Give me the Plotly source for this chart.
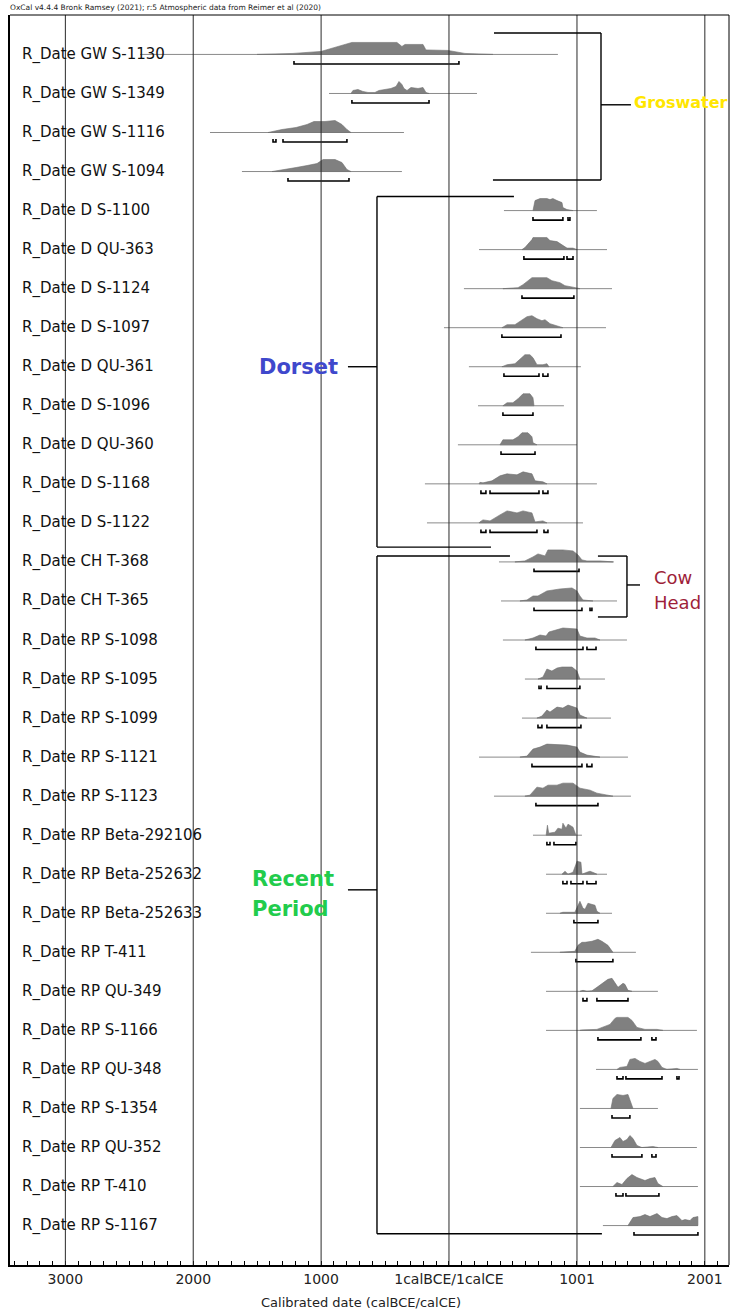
import plotly.graph_objects as go

# ---------------- data ----------------
labels = ["R_Date GW S-1130", "R_Date GW S-1349", "R_Date GW S-1116", "R_Date GW S-1094",
          "R_Date D S-1100", "R_Date D QU-363", "R_Date D S-1124", "R_Date D S-1097",
          "R_Date D QU-361", "R_Date D S-1096", "R_Date D QU-360", "R_Date D S-1168",
          "R_Date D S-1122", "R_Date CH T-368", "R_Date CH T-365",
          "R_Date RP S-1098", "R_Date RP S-1095", "R_Date RP S-1099", "R_Date RP S-1121",
          "R_Date RP S-1123", "R_Date RP Beta-292106", "R_Date RP Beta-252632",
          "R_Date RP Beta-252633", "R_Date RP T-411", "R_Date RP QU-349", "R_Date RP S-1166",
          "R_Date RP QU-348", "R_Date RP S-1354", "R_Date RP QU-352", "R_Date RP T-410",
          "R_Date RP S-1167"]

# extent of the plotted likelihood (calendar years, negative = BCE)
line_start = [-2416, -938, -1869, -1619, 430, 235, 117, -39, 156, 227, 70, -188, -172,
              391, 407, 422, 594, 571, 235, 352, 657, 759, 759, 641, 759, 759, 1150,
              1024, 1024, 1024, 1204]
line_end = [852, 219, -352, -368, 1157, 1236, 1275, 1228, 1032, 899, 1001, 1157, 1048,
            1290, 1314, 1392, 1220, 1267, 1400, 1423, 1040, 1236, 1275, 1462, 1634, 1939,
            1947, 1634, 1939, 1947, 1947]

dist_years = [
    [-1501, -1220, -1001, -821, -759, -407, -368, -344, -203, -180, -8, 125, 344],
    [-766, -751, -712, -673, -633, -579, -547, -454, -414, -391, -368, -352, -328, -297, -242, -203, -180, -156],
    [-1415, -1306, -1196, -1110, -1056, -970, -891, -876, -837, -798, -766],
    [-1384, -1275, -1196, -1110, -1032, -985, -891, -837, -798, -766],
    [657, 673, 712, 766, 790, 813, 845, 884, 891, 923, 970],
    [571, 594, 649, 657, 766, 790, 845, 891, 923, 970, 1001],
    [422, 540, 579, 649, 766, 805, 868, 907, 970, 1024],
    [414, 454, 516, 555, 610, 649, 688, 727, 751, 790, 845, 891],
    [414, 454, 516, 555, 594, 633, 657, 688, 735, 766, 782],
    [422, 454, 500, 540, 579, 633, 657, 665],
    [399, 422, 500, 540, 571, 618, 649, 657, 688],
    [235, 242, 266, 336, 399, 454, 532, 579, 649, 673, 735, 766],
    [235, 242, 266, 321, 399, 454, 532, 579, 649, 673, 735, 766],
    [516, 594, 657, 696, 751, 774, 891, 970, 1009, 1040, 1079, 1181, 1282],
    [555, 610, 657, 696, 766, 805, 868, 962, 1001, 1024, 1048, 1126],
    [594, 657, 712, 759, 782, 845, 891, 1001, 1024, 1079, 1142, 1181],
    [696, 735, 766, 805, 845, 884, 962, 1001, 1024],
    [688, 727, 766, 790, 845, 891, 931, 1001, 1024, 1079],
    [555, 610, 657, 712, 766, 923, 1001, 1024, 1079, 1181],
    [594, 633, 688, 735, 774, 845, 891, 970, 1024, 1103, 1157, 1236, 1282],
    [760, 770, 780, 829, 852, 884, 891, 915, 931, 970, 993],
    [884, 907, 931, 970, 993, 1001, 1032, 1040, 1079, 1103, 1142, 1157],
    [868, 891, 985, 1009, 1024, 1048, 1064, 1087, 1118, 1142, 1157, 1181],
    [868, 985, 1009, 1040, 1064, 1118, 1165, 1196, 1243, 1282],
    [1024, 1048, 1079, 1118, 1157, 1204, 1243, 1275, 1298, 1322, 1361, 1376, 1400, 1431],
    [1024, 1048, 1157, 1220, 1259, 1298, 1314, 1400, 1431, 1470, 1533, 1627, 1673],
    [1314, 1337, 1392, 1415, 1455, 1494, 1533, 1572, 1611, 1634, 1666, 1705, 1783, 1806],
    [1267, 1282, 1314, 1361, 1400, 1431, 1439],
    [1267, 1298, 1337, 1361, 1392, 1415, 1439, 1470, 1509, 1595, 1634],
    [1282, 1314, 1353, 1392, 1431, 1470, 1533, 1572, 1611, 1634, 1673],
    [1400, 1439, 1494, 1533, 1572, 1627, 1666, 1705, 1744, 1783, 1822, 1846, 1885, 1908, 1947, 1947],
]
dist_prob = [
    [0, 1, 3, 10, 12, 12, 8, 10, 10, 4.5, 4, 1, 0],
    [0, 3, 4, 2, 1, 1, 3, 5, 7, 12, 9, 5, 3, 6, 5, 6, 1, 0],
    [0, 3, 5, 8, 11, 11, 12, 11, 8, 3, 0],
    [0, 2, 4, 6, 8, 12, 12, 9, 2, 0],
    [0, 10, 12, 12, 11, 12, 10, 8, 3, 1, 0],
    [0, 2, 10, 12, 12, 9, 8, 4, 1.5, 1.5, 0],
    [0, 1, 4, 11, 11, 8, 6, 3, 1.5, 0],
    [0, 3, 3, 6, 11, 12, 9, 7, 8, 4, 2, 0],
    [0, 2, 3, 8, 12, 12, 9, 2, 2, 3, 0],
    [0, 3, 3, 7, 12, 12, 8, 0],
    [0, 5, 5, 8, 12, 12, 8, 2, 0],
    [0, 1.5, 1, 3, 8, 10, 9, 12, 10, 3, 2, 0],
    [0, 1, 3, 2, 8, 12, 10, 12, 10, 1, 2, 0],
    [0, 1, 5, 8, 6, 12, 12, 11, 7, 2, 1, 1, 0],
    [0, 1, 5, 5, 10, 11, 12, 13, 10, 5, 1, 0],
    [0, 2, 5, 4, 8, 10, 12, 11, 4, 2, 2, 0],
    [0, 2, 10, 8, 11, 12, 12, 8, 0],
    [0, 2, 8, 6, 11, 10, 13, 10, 3, 0],
    [0, 1, 8, 10, 13, 12, 10, 5, 2, 0],
    [0, 1, 9, 8, 11, 11, 13, 13, 8, 6, 3, 1, 0],
    [0, 10, 2, 3, 7, 6, 12, 7, 11, 8, 0],
    [0, 3, 0, 2, 10, 13, 12, 0, 2, 3, 1, 0],
    [0, 1, 1, 8, 12, 5, 4, 10, 9, 8, 2, 0],
    [0, 1, 7, 10, 10, 11, 13, 11, 7, 0],
    [0, 1, 0, 0.5, 4, 8, 12, 13, 8, 4, 8, 7, 1, 0],
    [0, 0.5, 1, 4, 6, 12, 13, 13, 10, 3, 1, 1, 0],
    [0, 2, 3, 10, 11, 8, 6, 8, 10, 8, 2, 0, 1, 0],
    [0, 10, 14, 13, 14, 4, 0],
    [0, 7, 10, 6, 8, 12, 9, 2, 0, 1, 0],
    [0, 4, 2, 8, 12, 9, 6, 8, 9, 3, 0],
    [0, 8, 9, 11, 9, 12, 8, 7, 9, 10, 5, 6, 5, 8, 9, 0],
]

# highest probability density ranges (calendar years)
ranges = [
    [[-1212, 78]], [[-759, -156]], [[-1376, -1353], [-1298, -798]], [[-1259, -782]],
    [[657, 891], [931, 946]], [[586, 899], [923, 970]], [[571, 977]], [[414, 876]],
    [[430, 704], [735, 774]], [[422, 657]], [[407, 673]],
    [[250, 289], [321, 704], [735, 774]], [[250, 289], [321, 688], [743, 774]],
    [[665, 1017]], [[665, 1040], [1103, 1118]], [[680, 1048], [1079, 1150]],
    [[704, 720], [766, 1024]], [[696, 727], [766, 1032]], [[649, 1040], [1079, 1118]],
    [[680, 1165]], [[766, 790], [821, 993]], [[891, 923], [954, 1048], [1079, 1150]],
    [[977, 1165]], [[993, 1282]], [[1048, 1079], [1157, 1400]], [[1165, 1501], [1587, 1619]],
    [[1314, 1361], [1384, 1666], [1783, 1799]], [[1275, 1415]], [[1275, 1509], [1587, 1619]],
    [[1306, 1361], [1384, 1642]], [[1447, 1947]],
]

tick_vals = [-3000, -2000, -1000, 0, 1001, 2001]
tick_text = ["3000", "2000", "1000", "1calBCE/1calCE", "1001", "2001"]

# ---------------- figure ----------------
PX_ROW = 39.04           # pixels per row
H = 1.0 / PX_ROW         # probability units drawn as pixels
RANGE_OFF = 9.5 / PX_ROW
CAP = 3.0 / PX_ROW
FONT = "DejaVu Sans"

fig = go.Figure()

# baselines
bx, by = [], []
for i, (a, b) in enumerate(zip(line_start, line_end)):
    bx += [a, b, None]
    by += [i, i, None]
fig.add_trace(go.Scatter(x=bx, y=by, mode="lines", line=dict(color="#8a8a8a", width=1),
                         hoverinfo="skip"))

# distributions
for i, (xs, ps) in enumerate(zip(dist_years, dist_prob)):
    px_ = list(xs) + [xs[-1], xs[0]]
    py_ = [i - p * H for p in ps] + [i, i]
    fig.add_trace(go.Scatter(x=px_, y=py_, mode="lines", fill="toself",
                             fillcolor="#808080", line=dict(color="#6e6e6e", width=0.6),
                             hoverinfo="skip"))

# ranges
rx, ry = [], []
for i, segs in enumerate(ranges):
    yv = i + RANGE_OFF
    for a, b in segs:
        rx += [a, a, b, b, None]
        ry += [yv - CAP, yv, yv, yv - CAP, None]
fig.add_trace(go.Scatter(x=rx, y=ry, mode="lines", line=dict(color="black", width=1.6),
                         hoverinfo="skip"))

shapes = []
# vertical grid lines at major ticks (drawn above the distributions)
for v in tick_vals:
    shapes.append(dict(type="line", xref="x", yref="paper", x0=v, x1=v, y0=0, y1=1,
                       line=dict(color="#2a2a2a", width=1), layer="above"))
# frame top & right
shapes.append(dict(type="line", xref="paper", yref="paper", x0=0, x1=1, y0=1, y1=1,
                   line=dict(color="black", width=1)))
shapes.append(dict(type="line", xref="paper", yref="paper", x0=1, x1=1, y0=0, y1=1,
                   line=dict(color="black", width=1)))


def bracket(x_left_top, x_left_bot, x_v, y_top, y_bot, x_tick_a, x_tick_b, y_tick):
    return [
        dict(type="line", x0=x_left_top, x1=x_v, y0=y_top, y1=y_top),
        dict(type="line", x0=x_v, x1=x_v, y0=y_top, y1=y_bot),
        dict(type="line", x0=x_left_bot, x1=x_v, y0=y_bot, y1=y_bot),
        dict(type="line", x0=x_tick_a, x1=x_tick_b, y0=y_tick, y1=y_tick),
    ]


grp = []
# Groswater (bracket opens to the left, tick to the right)
grp += bracket(352, 344, 1189, -0.55, 3.215, 1189, 1423, 1.29)
# Dorset (vertical on left, tick to the left)
grp += [dict(type="line", x0=-563, x1=508, y0=3.64, y1=3.64),
        dict(type="line", x0=-563, x1=-563, y0=3.64, y1=12.62),
        dict(type="line", x0=-563, x1=329, y0=12.62, y1=12.62),
        dict(type="line", x0=-790, x1=-563, y0=8.0, y1=8.0)]
# Recent Period
grp += [dict(type="line", x0=-563, x1=477, y0=12.85, y1=12.85),
        dict(type="line", x0=-563, x1=-563, y0=12.85, y1=30.21),
        dict(type="line", x0=-563, x1=1196, y0=30.21, y1=30.21),
        dict(type="line", x0=-790, x1=-563, y0=21.4, y1=21.4)]
# Cow Head
grp += bracket(1165, 1165, 1392, 12.85, 14.41, 1392, 1494, 13.59)
for s in grp:
    s.update(xref="x", yref="y", line=dict(color="black", width=1.4))
shapes += grp

annotations = []
for i, lab in enumerate(labels):
    annotations.append(dict(x=0.0139, y=i, xref="paper", yref="y", text=lab,
                            showarrow=False, xanchor="left", yanchor="middle",
                            font=dict(family=FONT, size=15, color="#111111")))

annotations += [
    dict(x=1430, y=1.243, xref="x", yref="y", text="<b>Groswater</b>", showarrow=False,
         xanchor="left", yanchor="middle", font=dict(family=FONT, size=16, color="#FFE600")),
    dict(x=-852, y=8.0, xref="x", yref="y", text="<b>Dorset</b>", showarrow=False,
         xanchor="right", yanchor="middle", font=dict(family=FONT, size=21, color="#3F48CC")),
    dict(x=-1556, y=21.12, xref="x", yref="y", text="<b>Recent</b>", showarrow=False,
         xanchor="left", yanchor="middle", font=dict(family=FONT, size=21, color="#22CC4C")),
    dict(x=-1556, y=21.89, xref="x", yref="y", text="<b>Period</b>", showarrow=False,
         xanchor="left", yanchor="middle", font=dict(family=FONT, size=21, color="#22CC4C")),
    dict(x=1587, y=13.39, xref="x", yref="y", text="Cow", showarrow=False,
         xanchor="left", yanchor="middle", font=dict(family=FONT, size=18, color="#9E1F3A")),
    dict(x=1587, y=14.05, xref="x", yref="y", text="Head", showarrow=False,
         xanchor="left", yanchor="middle", font=dict(family=FONT, size=18, color="#9E1F3A")),
    dict(x=-0.0028, y=1.0056, xref="paper", yref="paper",
         text="OxCal v4.4.4 Bronk Ramsey (2021); r:5 Atmospheric data from Reimer et al (2020)",
         showarrow=False, xanchor="left", yanchor="middle",
         font=dict(family=FONT, size=7.5, color="#222222")),
    dict(x=0.488, y=-0.0296, xref="paper", yref="paper", text="Calibrated date (calBCE/calCE)",
         showarrow=False, xanchor="center", yanchor="middle",
         font=dict(family=FONT, size=13, color="#222222")),
]

minor_vals = list(range(-3400, 2200, 100))

fig.update_layout(
    width=731, height=1310,
    margin=dict(l=10, r=2, t=15, b=45),
    paper_bgcolor="white", plot_bgcolor="white",
    showlegend=False,
    shapes=shapes, annotations=annotations,
    xaxis=dict(range=[-3433, 2190], tickmode="array", tickvals=tick_vals, ticktext=tick_text,
               showgrid=False, zeroline=False, showline=True, linecolor="black", linewidth=2,
               ticks="", tickfont=dict(family=FONT, size=14, color="#222222"),
               minor=dict(tickmode="array", tickvals=minor_vals, ticks="inside", ticklen=4,
                          tickcolor="black", tickwidth=1, showgrid=False),
               fixedrange=True),
    yaxis=dict(range=[31.01, -1.01], showgrid=False, zeroline=False, showticklabels=False,
               showline=True, linecolor="black", linewidth=2, ticks="", fixedrange=True),
)

fig.write_html("out.html", config={"displayModeBar": False},
               post_script="document.body.style.margin='0';document.body.style.overflow='hidden';")
